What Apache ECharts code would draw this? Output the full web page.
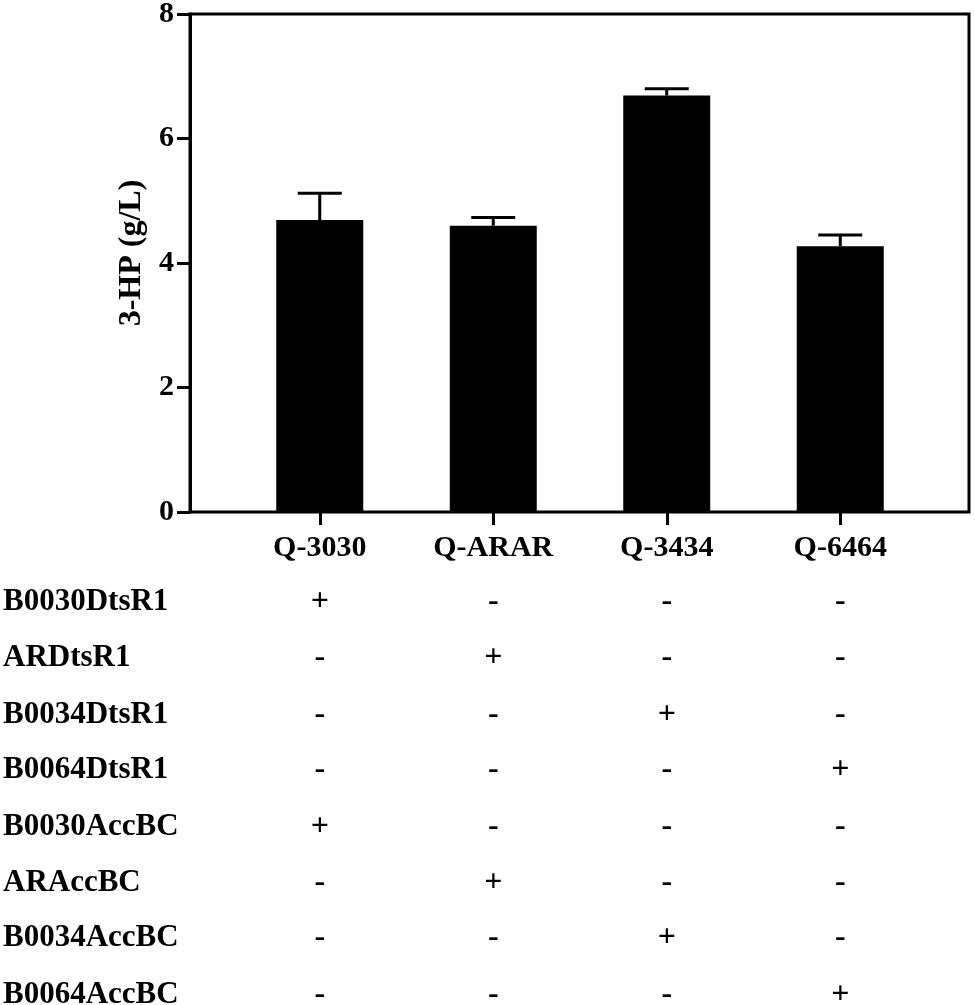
<!DOCTYPE html>
<html>
<head>
<meta charset="utf-8">
<script src="https://cdn.jsdelivr.net/npm/echarts@6/dist/echarts.min.js"></script>
<style>
  html, body { margin: 0; padding: 0; background: #fff; }
  #main { width: 975px; height: 1005px; }
</style>
</head>
<body>
<div id="main"></div>
<script>
// strains and 3-HP titers (g/L)
var strains = ['Q-3030', 'Q-ARAR', 'Q-3434', 'Q-6464'];
var titers = [4.69, 4.60, 6.69, 4.27];
var errors = [0.43, 0.13, 0.11, 0.18];

// genotype table under the bars
var parts = ['B0030DtsR1', 'ARDtsR1', 'B0034DtsR1', 'B0064DtsR1',
  'B0030AccBC', 'ARAccBC', 'B0034AccBC', 'B0064AccBC'];
var row1 = ['+', '-', '-', '-'];
var row2 = ['-', '+', '-', '-'];
var row3 = ['-', '-', '+', '-'];
var row4 = ['-', '-', '-', '+'];
var row5 = ['+', '-', '-', '-'];
var row6 = ['-', '+', '-', '-'];
var row7 = ['-', '-', '+', '-'];
var row8 = ['-', '-', '-', '+'];
var rows = [row1, row2, row3, row4, row5, row6, row7, row8];

var yTicks = [0, 2, 4, 6, 8];

var FONT = "'Liberation Serif', 'Times New Roman', serif";

var chartDom = document.getElementById('main');
var myChart = echarts.init(chartDom);
var option;

var xAxes = [
  // frame grid, hidden x
  { gridIndex: 0, type: 'value', min: 0, max: 1, show: false },
  // strain axis under the bars
  {
    gridIndex: 1,
    type: 'category',
    data: strains,
    axisLine: { show: false },
    axisTick: { show: true, alignWithLabel: true, length: 13, lineStyle: { color: '#000', width: 3 } },
    axisLabel: {
      color: '#000', fontFamily: FONT, fontWeight: 'bold', fontSize: 30,
      margin: 36, verticalAlign: 'middle'
    }
  }
];

// one hidden-line axis per table row, labels are the +/- marks
var rowOffsets = [90, 146, 203, 258, 315, 371, 426, 483];
rows.forEach(function (r, i) {
  xAxes.push({
    gridIndex: 1,
    type: 'category',
    position: 'bottom',
    offset: rowOffsets[i],
    data: r,
    name: parts[i],
    nameLocation: 'start',
    nameGap: 230,
    nameTextStyle: {
      color: '#000', fontFamily: FONT, fontWeight: 'bold', fontSize: 31,
      align: 'left', verticalAlign: 'middle'
    },
    axisLine: { show: false },
    axisTick: { show: false },
    axisLabel: {
      color: '#000', fontFamily: FONT, fontWeight: 'bold', fontSize: 32,
      margin: 0, verticalAlign: 'middle'
    }
  });
});

option = {
  backgroundColor: '#fff',
  animation: false,
  grid: [
    { left: 190, right: 6, top: 14, bottom: 493, outerBoundsMode: 'none', show: true, borderColor: '#000', borderWidth: 3, backgroundColor: 'transparent' },
    { left: 233, right: 48, top: 14, bottom: 493, outerBoundsMode: 'none' }
  ],
  xAxis: xAxes,
  yAxis: [
    {
      gridIndex: 0,
      type: 'value',
      min: 0,
      max: 8,
      interval: 2,
      name: '3-HP (g/L)',
      nameLocation: 'middle',
      nameGap: 42,
      nameTextStyle: { color: '#000', fontFamily: FONT, fontWeight: 'bold', fontSize: 32, padding: [0, 0, 0, 20] },
      axisLine: { show: true, lineStyle: { color: '#000', width: 3 } },
      axisTick: { show: true, length: 13, lineStyle: { color: '#000', width: 3 } },
      axisLabel: {
        color: '#000', fontFamily: FONT, fontWeight: 'bold', fontSize: 30, margin: 16,
        formatter: function (v) { return yTicks.indexOf(v) >= 0 ? String(v) : ''; }
      },
      splitLine: { show: false }
    },
    { gridIndex: 1, type: 'value', min: 0, max: 8, interval: 2, show: false }
  ],
  series: [
    {
      name: '3-HP',
      type: 'bar',
      xAxisIndex: 1,
      yAxisIndex: 1,
      data: titers,
      barWidth: 87,
      itemStyle: { color: '#000' }
    },
    {
      name: 'SD',
      type: 'custom',
      xAxisIndex: 1,
      yAxisIndex: 1,
      data: titers.map(function (v, i) { return [i, v, v + errors[i]]; }),
      renderItem: function (params, api) {
        var base = api.coord([api.value(0), api.value(1)]);
        var top = api.coord([api.value(0), api.value(2)]);
        var half = 22;
        var st = { stroke: '#000', lineWidth: 3 };
        return {
          type: 'group',
          children: [
            { type: 'line', shape: { x1: base[0], y1: base[1], x2: top[0], y2: top[1] }, style: st },
            { type: 'line', shape: { x1: top[0] - half, y1: top[1], x2: top[0] + half, y2: top[1] }, style: st }
          ]
        };
      },
      z: 3
    }
  ]
};

option && myChart.setOption(option);
</script>
</body>
</html>
